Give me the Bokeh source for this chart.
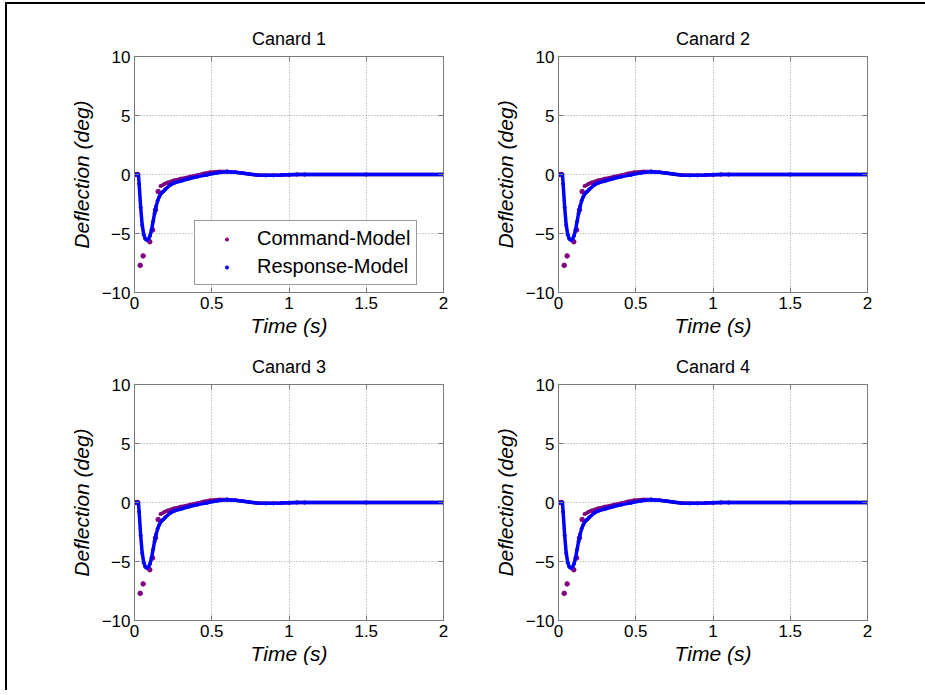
from bokeh.plotting import figure
from bokeh.layouts import column, row
from bokeh.models import (LinearAxis, Legend, LegendItem, FixedTicker, ColumnDataSource,
                          Range1d)
from bokeh.embed import file_html
from bokeh.resources import INLINE

# ---------------- data ----------------
titles = ["Canard 1", "Canard 2", "Canard 3", "Canard 4"]
x_ticks = [0, 0.5, 1, 1.5, 2]
y_ticks = [-10, -5, 0, 5, 10]

# Command-Model (purple dots): sparse samples early, dense afterwards
cmd_time = [0.000, 0.020, 0.037, 0.056, 0.099, 0.117, 0.136, 0.153, 0.168, 0.190,
            0.210, 0.255, 0.300, 0.360, 0.410, 0.450, 0.490, 0.550, 0.600,
            0.650, 0.700, 0.750, 0.800, 0.850, 0.900, 0.950, 1.000, 1.050, 1.100,
            1.500, 2.000]
cmd_defl = [0.00, 0.00, -7.70, -6.90, -5.70, -4.70, -3.00, -1.45, -0.98, -0.84,
            -0.70, -0.50, -0.35, -0.18, -0.04, 0.08, 0.19, 0.25, 0.26,
            0.20, 0.12, 0.03, -0.04, -0.07, -0.07, -0.05, -0.02, 0.00, 0.00,
            0.00, 0.00]

# Response-Model (blue dots, densely sampled)
resp_time = [0.000, 0.025, 0.030, 0.040, 0.050, 0.060, 0.070, 0.080, 0.090, 0.100,
             0.110, 0.120, 0.130, 0.140, 0.150, 0.160, 0.170, 0.180, 0.190, 0.200,
             0.230, 0.260, 0.300, 0.350, 0.410, 0.470, 0.535, 0.600, 0.650, 0.690,
             0.740, 0.790, 0.850, 0.900, 0.950, 1.000, 1.050, 1.100, 1.500, 2.000]
resp_defl = [0.00, 0.00, -0.80, -2.80, -4.30, -5.10, -5.45, -5.55, -5.50, -5.20,
             -4.70, -4.00, -3.30, -2.70, -2.20, -1.90, -1.65, -1.50, -1.40, -1.25,
             -0.90, -0.70, -0.55, -0.36, -0.18, -0.03, 0.15, 0.24, 0.20, 0.13,
             0.04, -0.04, -0.07, -0.07, -0.05, -0.02, 0.00, 0.00, 0.00, 0.00]

CMD_COLOR = "#7f007f"
RESP_COLOR = "#0000ff"
AX_COLOR = "#7a7a7a"
GRID_COLOR = "#9a9a9a"
FONT = "Liberation Sans"
DENSE_FROM = 0.16   # command samples become dense from here on

cmd_src = ColumnDataSource(dict(t=cmd_time, d=cmd_defl))
sparse_idx = [i for i, t in enumerate(cmd_time) if t < DENSE_FROM]
dense_idx = [i for i, t in enumerate(cmd_time) if t >= DENSE_FROM]
cmd_sparse_src = ColumnDataSource(dict(t=[cmd_time[i] for i in sparse_idx],
                                       d=[cmd_defl[i] for i in sparse_idx]))
cmd_dense_src = ColumnDataSource(dict(t=[cmd_time[i] for i in dense_idx],
                                      d=[cmd_defl[i] for i in dense_idx]))
resp_src = ColumnDataSource(dict(t=resp_time, d=resp_defl))


def style_axis(ax, labels=True):
    ax.axis_line_color = AX_COLOR
    ax.major_tick_line_color = AX_COLOR
    ax.major_tick_in = 5
    ax.major_tick_out = 0
    ax.minor_tick_line_color = None
    ax.major_label_text_font = FONT
    if labels:
        ax.major_label_text_font_size = "17px"
        ax.major_label_text_color = "black"
        ax.major_label_standoff = 4
    else:
        ax.major_label_text_font_size = "1px"
        ax.major_label_text_color = None
        ax.major_label_standoff = 0


def make_fig(title, with_legend, frame_l, frame_r_border, top_border, bottom_border):
    p = figure(frame_width=309, frame_height=236,
               x_range=Range1d(0, 2), y_range=Range1d(-10, 10),
               output_backend="svg", toolbar_location=None,
               min_border_left=frame_l, min_border_right=frame_r_border,
               min_border_top=top_border, min_border_bottom=bottom_border,
               background_fill_color="white", border_fill_color="white")
    p.title.text = title
    p.title.align = "center"
    p.title.text_font = FONT
    p.title.text_font_style = "normal"
    p.title.text_font_size = "18px"
    p.title.text_color = "black"
    p.title.standoff = 16
    p.outline_line_color = AX_COLOR

    p.xaxis.ticker = FixedTicker(ticks=x_ticks)
    p.yaxis.ticker = FixedTicker(ticks=y_ticks)
    p.xaxis.major_label_overrides = {0: "0", 0.5: "0.5", 1: "1", 1.5: "1.5", 2: "2"}
    for ax in (p.xaxis[0], p.yaxis[0]):
        style_axis(ax)
        ax.axis_label_text_font = FONT
        ax.axis_label_text_font_style = "italic"
        ax.axis_label_text_font_size = "21px"
        ax.axis_label_text_color = "black"
    p.xaxis.axis_label_standoff = 2
    p.yaxis.axis_label_standoff = 6
    p.xaxis.axis_label = "Time (s)"
    p.yaxis.axis_label = "Deflection (deg)"

    top = LinearAxis(ticker=FixedTicker(ticks=x_ticks))
    right = LinearAxis(ticker=FixedTicker(ticks=y_ticks))
    style_axis(top, labels=False)
    style_axis(right, labels=False)
    p.add_layout(top, "above")
    p.add_layout(right, "right")

    p.xgrid.ticker = FixedTicker(ticks=x_ticks)
    p.ygrid.ticker = FixedTicker(ticks=y_ticks)
    for g in (p.xgrid[0], p.ygrid[0]):
        g.grid_line_color = GRID_COLOR
        g.grid_line_dash = "1 2"
        g.grid_line_width = 1

    # small dots used for the legend samples (hidden below the main marks)
    cmd_leg = p.scatter("t", "d", source=cmd_src, size=3, color=CMD_COLOR, marker="circle")
    resp_leg = p.scatter("t", "d", source=resp_src, size=3, color=RESP_COLOR, marker="circle")
    p.line("t", "d", source=cmd_dense_src, color=CMD_COLOR, line_width=3.5)
    p.scatter("t", "d", source=cmd_sparse_src, size=4.5, color=CMD_COLOR, marker="circle")
    p.line("t", "d", source=resp_src, color=RESP_COLOR, line_width=3.5)

    if with_legend:
        leg = Legend(items=[LegendItem(label="Command-Model", renderers=[cmd_leg]),
                            LegendItem(label="Response-Model", renderers=[resp_leg])],
                     location=(60, 7), margin=0, padding=6, spacing=5,
                     glyph_width=51, glyph_height=8, label_height=22, label_standoff=5,
                     label_text_font=FONT, label_text_font_size="20px",
                     label_text_color="black",
                     border_line_color="#333333", border_line_width=1,
                     background_fill_color="white", background_fill_alpha=1.0)
        p.add_layout(leg)
    return p


f1 = make_fig(titles[0], True, 127, 47, 52, 53)
f2 = make_fig(titles[1], False, 48, 75, 52, 53)
f3 = make_fig(titles[2], False, 127, 47, 39, 70)
f4 = make_fig(titles[3], False, 48, 75, 39, 70)

layout = column(row(f1, f2, spacing=0), row(f3, f4, spacing=0), spacing=0,
                styles={"border-left": "2px solid black", "border-top": "2px solid black",
                        "margin-left": "5px", "margin-top": "2px"})

open("out.html", "w").write(file_html(layout, INLINE))
